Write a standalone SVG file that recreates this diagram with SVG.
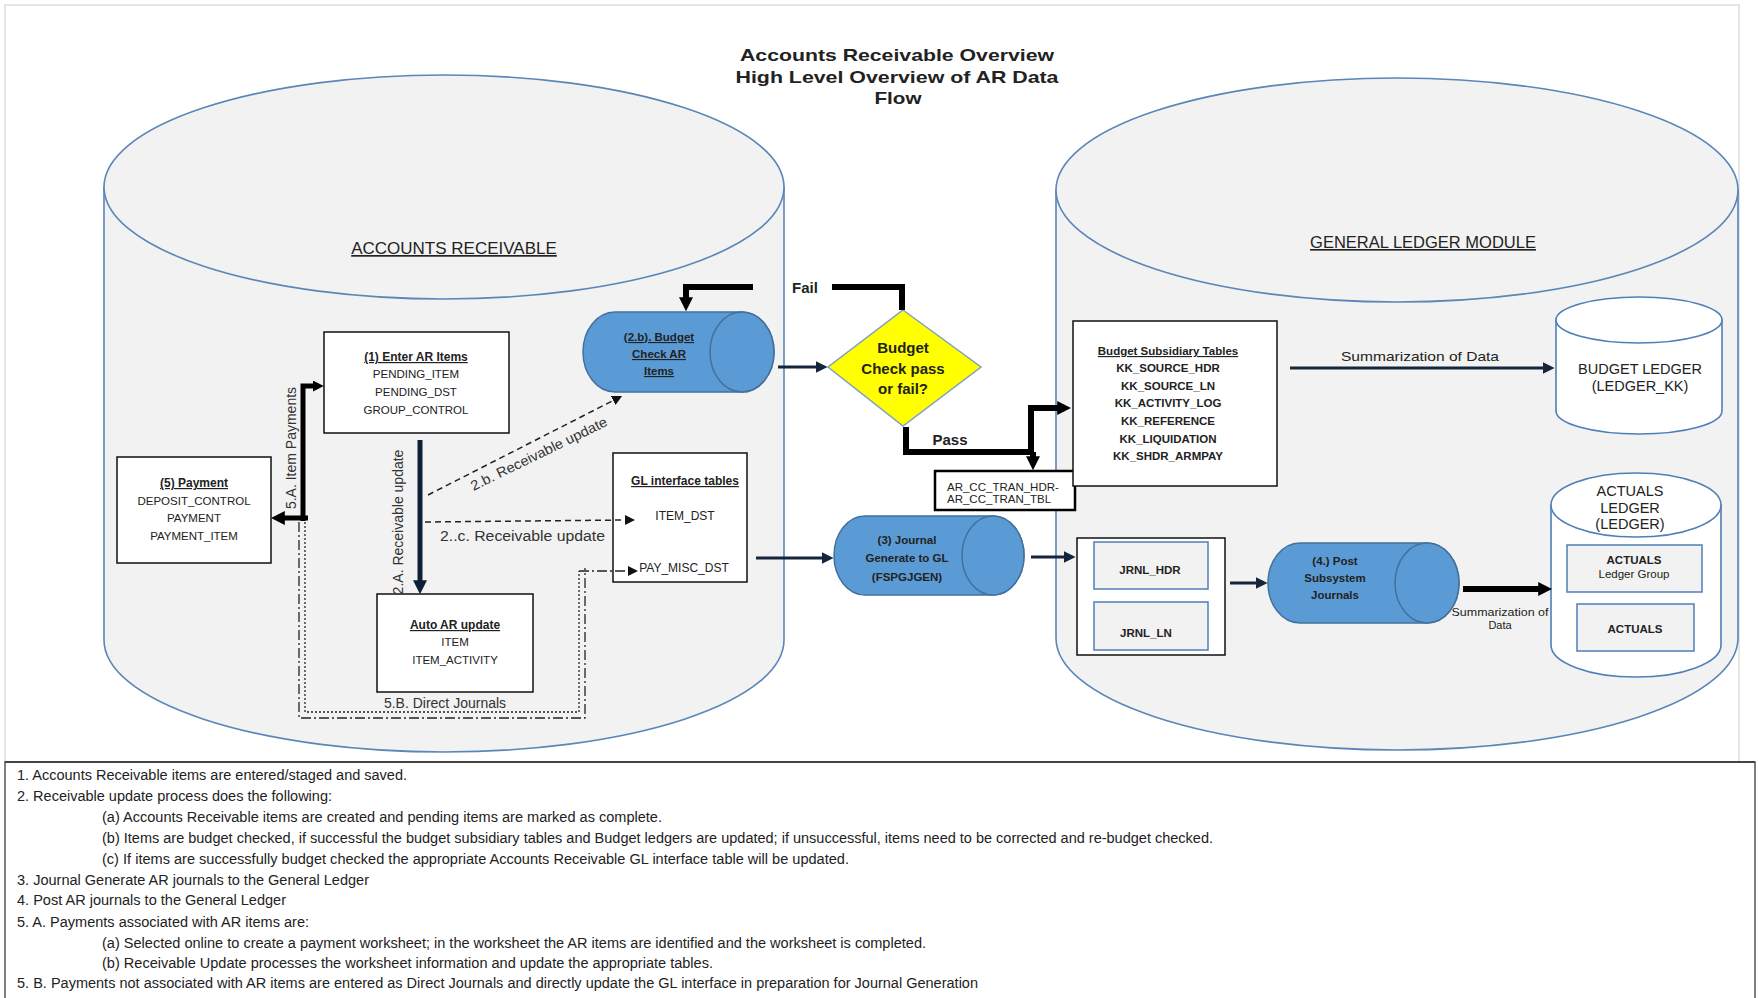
<svg xmlns="http://www.w3.org/2000/svg" width="1758" height="998" viewBox="0 0 1758 998">
<defs>
<style>
text{font-family:"Liberation Sans",Arial,sans-serif;fill:#222}
.c{text-anchor:middle}
.b{font-weight:bold}
.u{text-decoration:underline}
.box{fill:#fff;stroke:#111;stroke-width:1.5}
.ibox{fill:#f2f2f2;stroke:#4f7fb8;stroke-width:1.5}
.big{fill:#f2f2f2;stroke:#5a86b8;stroke-width:1.6}
.wcyl{fill:#fff;stroke:#4f7fb8;stroke-width:1.6}
.hcyl{fill:#5b9bd5;stroke:#41719c;stroke-width:1.5}
.t11{font-size:11.5px}
.t12{font-size:12px}
.lbl{font-size:14px;fill:#333}
.body{font-size:14px;fill:#222}
.thk{fill:none;stroke:#000;stroke-width:6}
.navy{fill:none;stroke:#14253d;stroke-width:3}
.dash{fill:none;stroke:#222;stroke-width:1.5;stroke-dasharray:6 4}
.dd1{fill:none;stroke:#222;stroke-width:1.3;stroke-dasharray:10 3 2 3}
.dd2{fill:none;stroke:#222;stroke-width:1.3;stroke-dasharray:2 2}
</style>
<marker id="mkB" viewBox="0 0 10 10" refX="2" refY="5" markerWidth="14" markerHeight="14" markerUnits="userSpaceOnUse" orient="auto"><path d="M0,0 L10,5 L0,10 z" fill="#000"/></marker>
<marker id="mkBs" viewBox="0 0 10 10" refX="2" refY="5" markerWidth="11" markerHeight="11" markerUnits="userSpaceOnUse" orient="auto"><path d="M0,0 L10,5 L0,10 z" fill="#000"/></marker>
<marker id="mkN" viewBox="0 0 10 10" refX="2" refY="5" markerWidth="12" markerHeight="12" markerUnits="userSpaceOnUse" orient="auto"><path d="M0,0 L10,5 L0,10 z" fill="#14253d"/></marker>
<marker id="mkN2" viewBox="0 0 10 10" refX="2" refY="5" markerWidth="14" markerHeight="14" markerUnits="userSpaceOnUse" orient="auto"><path d="M0,0 L10,5 L0,10 z" fill="#0e2037"/></marker>
<marker id="mkD" viewBox="0 0 10 10" refX="2" refY="5" markerWidth="10" markerHeight="10" markerUnits="userSpaceOnUse" orient="auto"><path d="M0,0 L10,5 L0,10 z" fill="#111"/></marker>
</defs>

<rect x="0" y="0" width="1758" height="998" fill="#fff"/>
<rect x="5" y="5" width="1734" height="757" fill="#fff" stroke="#d4d4d4" stroke-width="1.2"/>

<g id="title">
<text class="c b" x="897" y="61" font-size="17" textLength="314" lengthAdjust="spacingAndGlyphs" fill="#000">Accounts Receivable Overview</text>
<text class="c b" x="897" y="83" font-size="17" textLength="323" lengthAdjust="spacingAndGlyphs" fill="#000">High Level Overview of AR Data</text>
<text class="c b" x="898" y="104" font-size="17" textLength="47" lengthAdjust="spacingAndGlyphs" fill="#000">Flow</text>
</g>

<g id="ar-module">
<path class="big" d="M104,187 V640 A340,112 0 0 0 784,640 V187 Z"/>
<ellipse class="big" cx="444" cy="187" rx="340" ry="112"/>
<text class="c u" x="454" y="254" font-size="17" fill="#333">ACCOUNTS RECEIVABLE</text>
</g>

<g id="gl-module">
<path class="big" d="M1056,190 V638 A341,112 0 0 0 1738,638 V190 Z"/>
<ellipse class="big" cx="1397" cy="190" rx="341" ry="112"/>
<text class="c u" x="1423" y="248" font-size="16.5" fill="#333">GENERAL LEDGER MODULE</text>
</g>

<g id="enter-ar-items">
<rect class="box" x="324" y="332" width="185" height="101"/>
<text class="c b u t12" x="416" y="361">(1) Enter AR Items</text>
<text class="c t11" x="416" y="378">PENDING_ITEM</text>
<text class="c t11" x="416" y="396">PENDING_DST</text>
<text class="c t11" x="416" y="414">GROUP_CONTROL</text>
</g>

<g id="payment">
<rect class="box" x="117" y="457" width="154" height="106"/>
<text class="c b u t12" x="194" y="487">(5) Payment</text>
<text class="c t11" x="194" y="505">DEPOSIT_CONTROL</text>
<text class="c t11" x="194" y="522">PAYMENT</text>
<text class="c t11" x="194" y="540">PAYMENT_ITEM</text>
</g>

<g id="auto-ar-update">
<rect class="box" x="377" y="594" width="156" height="98"/>
<text class="c b u t12" x="455" y="629">Auto AR update</text>
<text class="c t11" x="455" y="646">ITEM</text>
<text class="c t11" x="455" y="664">ITEM_ACTIVITY</text>
</g>

<g id="gl-interface-tables">
<rect class="box" x="613" y="453" width="134" height="129"/>
<text class="c b u t12" x="685" y="485">GL interface tables</text>
<text class="c t12" x="685" y="520">ITEM_DST</text>
<text class="c t12" x="684" y="572">PAY_MISC_DST</text>
</g>

<g id="budget-check">
<path class="hcyl" d="M615,312 H742 A32,40 0 0 1 742,392 H615 A32,40 0 0 1 615,312 Z"/>
<ellipse class="hcyl" cx="742" cy="352" rx="32" ry="40"/>
<text class="c b u t11" x="659" y="341" fill="#14284b">(2.b). Budget</text>
<text class="c b u t11" x="659" y="358" fill="#14284b">Check AR</text>
<text class="c b u t11" x="659" y="375" fill="#14284b">Items</text>
</g>

<g id="decision">
<polygon points="903,310 981,367 903,426 828,367" fill="#ffff00" stroke="#7f9fc8" stroke-width="1.5"/>
<text class="c b" x="903" y="353" font-size="15" fill="#1a1a1a">Budget</text>
<text class="c b" x="903" y="374" font-size="15" fill="#1a1a1a">Check pass</text>
<text class="c b" x="903" y="394" font-size="15" fill="#1a1a1a">or fail?</text>
</g>

<g id="ar-cc-tran">
<rect x="935" y="471" width="140" height="39" fill="#fff" stroke="#000" stroke-width="2.5"/>
<text x="947" y="491" font-size="11.5">AR_CC_TRAN_HDR-</text>
<text x="947" y="503" font-size="11.5">AR_CC_TRAN_TBL</text>
</g>

<g id="journal-generate">
<path class="hcyl" d="M865,516 H993 A31,39.5 0 0 1 993,595 H865 A31,39.5 0 0 1 865,516 Z"/>
<ellipse class="hcyl" cx="993" cy="555.5" rx="31" ry="39.5"/>
<text class="c b t11" x="907" y="544" fill="#1a1a2a">(3) Journal</text>
<text class="c b t11" x="907" y="562" fill="#1a1a2a">Generate to GL</text>
<text class="c b t11" x="907" y="581" fill="#1a1a2a">(FSPGJGEN)</text>
</g>

<g id="budget-subsidiary">
<rect class="box" x="1073" y="321" width="204" height="165"/>
<text class="c b u t11" x="1168" y="355">Budget Subsidiary Tables</text>
<text class="c b t11" x="1168" y="372">KK_SOURCE_HDR</text>
<text class="c b t11" x="1168" y="390">KK_SOURCE_LN</text>
<text class="c b t11" x="1168" y="407">KK_ACTIVITY_LOG</text>
<text class="c b t11" x="1168" y="425">KK_REFERENCE</text>
<text class="c b t11" x="1168" y="443">KK_LIQUIDATION</text>
<text class="c b t11" x="1168" y="460">KK_SHDR_ARMPAY</text>
</g>

<g id="budget-ledger">
<path class="wcyl" d="M1556,320 V411 A83,23 0 0 0 1722,411 V320 Z"/>
<ellipse class="wcyl" cx="1639" cy="320" rx="83" ry="23"/>
<text class="c" x="1640" y="374" font-size="14.5" fill="#333">BUDGET LEDGER</text>
<text class="c" x="1640" y="391" font-size="14.5" fill="#333">(LEDGER_KK)</text>
</g>

<g id="jrnl-tables">
<rect class="box" x="1077" y="538" width="148" height="117"/>
<rect class="ibox" x="1094" y="542" width="114" height="47"/>
<rect class="ibox" x="1094" y="602" width="114" height="48"/>
<text class="c b t11" x="1150" y="574">JRNL_HDR</text>
<text class="c b t11" x="1146" y="637">JRNL_LN</text>
</g>

<g id="post-journals">
<path class="hcyl" d="M1300,543 H1427 A32,40 0 0 1 1427,623 H1300 A32,40 0 0 1 1300,543 Z"/>
<ellipse class="hcyl" cx="1427" cy="583" rx="32" ry="40"/>
<text class="c b t11" x="1335" y="565" fill="#1a1a2a">(4.) Post</text>
<text class="c b t11" x="1335" y="582" fill="#1a1a2a">Subsystem</text>
<text class="c b t11" x="1335" y="599" fill="#1a1a2a">Journals</text>
</g>

<g id="actuals-ledger">
<path class="wcyl" d="M1551,505 V645 A85,32 0 0 0 1721,645 V505 Z"/>
<ellipse class="wcyl" cx="1636" cy="505" rx="85" ry="32"/>
<text class="c" x="1630" y="496" font-size="14.5" fill="#333">ACTUALS</text>
<text class="c" x="1630" y="513" font-size="14.5" fill="#333">LEDGER</text>
<text class="c" x="1630" y="529" font-size="14.5" fill="#333">(LEDGER)</text>
<rect class="ibox" x="1567" y="545" width="135" height="47"/>
<text class="c b t11" x="1634" y="564">ACTUALS</text>
<text class="c t11" x="1634" y="578">Ledger Group</text>
<rect class="ibox" x="1577" y="604" width="117" height="47"/>
<text class="c b t11" x="1635" y="633">ACTUALS</text>
</g>

<g id="connectors">
<path class="thk" d="M902,310 V287 H832"/>
<path class="thk" d="M753,287 H686 V300" marker-end="url(#mkB)"/>
<path class="thk" d="M906,427 V452 H1031"/>
<path class="thk" d="M1031,455 V408 H1060" marker-end="url(#mkB)"/>
<path class="thk" d="M1033,452 V459" marker-end="url(#mkB)"/>
<path class="thk" style="stroke-width:5" d="M303,521 V386 H315" marker-end="url(#mkBs)"/>
<path class="thk" style="stroke-width:5" d="M308,518 H282" marker-end="url(#mkB)"/>
<path class="navy" style="stroke:#0e2037;stroke-width:5" d="M420,440 V583" marker-end="url(#mkN2)"/>
<path class="navy" d="M778,367 H818" marker-end="url(#mkN)"/>
<path class="navy" d="M756,558 H824" marker-end="url(#mkN)"/>
<path class="navy" d="M1031,557 H1066" marker-end="url(#mkN)"/>
<path class="navy" d="M1230,583 H1258" marker-end="url(#mkN)"/>
<path class="navy" d="M1290,368 H1545" marker-end="url(#mkN)"/>
<path class="thk" d="M1463,589 H1541" marker-end="url(#mkB)"/>
<path class="dash" d="M428,495 L615,399.6" marker-end="url(#mkD)"/>
<path class="dash" d="M425,522 L627,520" marker-end="url(#mkD)"/>
<path class="dd1" d="M299,522 V718 H585 V568"/>
<path class="dd2" d="M305,522 V712 H579 V571"/>
<path class="dd1" d="M579,571 H630" marker-end="url(#mkD)"/>
<text class="c b" x="805" y="293" font-size="15" fill="#333">Fail</text>
<text class="c b" x="950" y="445" font-size="15" fill="#333">Pass</text>
<text class="lbl c" font-size="12.5" transform="translate(296,448) rotate(-90)">5.A. Item Payments</text>
<text class="lbl c" font-size="13" transform="translate(403,522) rotate(-90)">2.A. Receivable update</text>
<text class="lbl c" font-size="14" textLength="150" lengthAdjust="spacingAndGlyphs" transform="translate(541,458) rotate(-26)">2.b. Receivable update</text>
<text class="lbl" x="440" y="541" textLength="165" lengthAdjust="spacingAndGlyphs">2..c. Receivable update</text>
<text class="lbl c" x="445" y="708">5.B. Direct Journals</text>
<text class="c" x="1420" y="361" font-size="13" textLength="158" lengthAdjust="spacingAndGlyphs" fill="#333">Summarization of Data</text>
<text class="c" x="1500" y="616" font-size="11" textLength="97" lengthAdjust="spacingAndGlyphs" fill="#333">Summarization of</text>
<text class="c" x="1500" y="629" font-size="11" fill="#333">Data</text>
</g>

<g id="notes">
<rect x="5" y="762" width="1750" height="240" fill="#fff" stroke="#555" stroke-width="1.5"/>
<line x1="5" y1="762" x2="1755" y2="762" stroke="#444" stroke-width="2.2"/>
<text class="body" x="17" y="780" textLength="390" lengthAdjust="spacingAndGlyphs">1. Accounts Receivable items are entered/staged and saved.</text>
<text class="body" x="17" y="801" textLength="315" lengthAdjust="spacingAndGlyphs">2. Receivable update process does the following:</text>
<text class="body" x="102" y="822" textLength="560" lengthAdjust="spacingAndGlyphs">(a) Accounts Receivable items are created and pending items are marked as complete.</text>
<text class="body" x="102" y="843" textLength="1111" lengthAdjust="spacingAndGlyphs">(b) Items are budget checked, if successful the budget subsidiary tables and Budget ledgers are updated; if unsuccessful, items need to be corrected and re-budget checked.</text>
<text class="body" x="102" y="864" textLength="747" lengthAdjust="spacingAndGlyphs">(c) If items are successfully budget checked the appropriate Accounts Receivable GL interface table will be updated.</text>
<text class="body" x="17" y="885" textLength="352" lengthAdjust="spacingAndGlyphs">3. Journal Generate AR journals to the General Ledger</text>
<text class="body" x="17" y="905" textLength="269" lengthAdjust="spacingAndGlyphs">4. Post AR journals to the General Ledger</text>
<text class="body" x="17" y="927" textLength="292" lengthAdjust="spacingAndGlyphs">5. A. Payments associated with AR items are:</text>
<text class="body" x="102" y="948" textLength="824" lengthAdjust="spacingAndGlyphs">(a) Selected online to create a payment worksheet; in the worksheet the AR items are identified and the worksheet is completed.</text>
<text class="body" x="102" y="968" textLength="611" lengthAdjust="spacingAndGlyphs">(b) Receivable Update processes the worksheet information and update the appropriate tables.</text>
<text class="body" x="17" y="988" textLength="961" lengthAdjust="spacingAndGlyphs">5. B. Payments not associated with AR items are entered as Direct Journals and directly update the GL interface in preparation for Journal Generation</text>
</g>
</svg>
